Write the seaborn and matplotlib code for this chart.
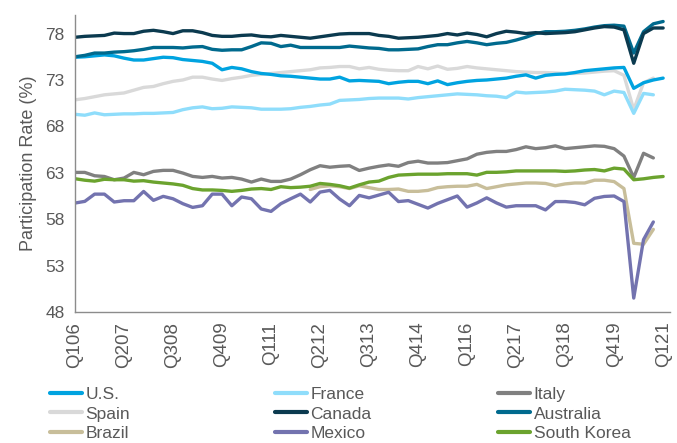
import numpy as np
import pandas as pd
import matplotlib
matplotlib.use("Agg")
import matplotlib.pyplot as plt
from matplotlib.lines import Line2D
import seaborn as sns

nan = np.nan
# quarterly index Q1 2006 .. Q1 2021 (61 quarters)
quarters = list(range(61))
tick_pos = list(range(0, 61, 5))
tick_labels = ["Q106", "Q207", "Q308", "Q409", "Q111", "Q212", "Q313",
               "Q414", "Q116", "Q217", "Q318", "Q419", "Q121"]

us = [75.45, 75.5, 75.6, 75.7, 75.6, 75.35, 75.15, 75.15, 75.3, 75.45,
      75.4, 75.2, 75.1, 75.0, 74.8, 74.1, 74.35, 74.2, 73.9, 73.7,
      73.6, 73.45, 73.4, 73.3, 73.2, 73.1, 73.1, 73.3, 72.9, 72.95,
      72.9, 72.85, 72.6, 72.75, 72.85, 72.85, 72.6, 72.9, 72.5, 72.7,
      72.85, 72.95, 73.0, 73.1, 73.2, 73.4, 73.55, 73.2, 73.5, 73.6,
      73.65, 73.8, 74.0, 74.1, 74.2, 74.3, 74.35, 72.1, 72.7, 73.0, 73.2]
france = [69.3, 69.2, 69.45, 69.25, 69.3, 69.35, 69.35, 69.4, 69.4, 69.45,
          69.5, 69.8, 70.0, 70.1, 69.9, 69.95, 70.1, 70.05, 70.0, 69.85,
          69.85, 69.85, 69.9, 70.05, 70.15, 70.3, 70.4, 70.8, 70.85, 70.9,
          71.0, 71.05, 71.05, 71.05, 70.95, 71.1, 71.2, 71.3, 71.4, 71.5,
          71.45, 71.4, 71.3, 71.25, 71.1, 71.7, 71.6, 71.65, 71.7, 71.8,
          72.0, 71.95, 71.9, 71.8, 71.4, 71.8, 71.65, 69.4, 71.55, 71.4, nan]
italy = [63.04, 63.04, 62.68, 62.6, 62.25, 62.43, 63.04, 62.79, 63.15, 63.26,
         63.26, 62.97, 62.61, 62.5, 62.61, 62.43, 62.5, 62.32, 62.0, 62.32,
         62.07, 62.07, 62.32, 62.79, 63.33, 63.76, 63.6, 63.7, 63.76, 63.25,
         63.5, 63.7, 63.85, 63.7, 64.1, 64.25, 64.05, 64.05, 64.1, 64.3,
         64.5, 65.0, 65.2, 65.3, 65.3, 65.5, 65.8, 65.6, 65.7, 65.9,
         65.6, 65.7, 65.8, 65.9, 65.85, 65.6, 64.8, 62.5, 65.1, 64.6, nan]
spain = [70.86, 71.0, 71.2, 71.4, 71.5, 71.6, 71.9, 72.2, 72.3, 72.6,
         72.85, 73.0, 73.3, 73.3, 73.1, 72.95, 73.15, 73.3, 73.5, 73.6,
         73.7, 73.8, 73.9, 74.0, 74.1, 74.3, 74.35, 74.45, 74.45, 74.2,
         74.35, 74.15, 74.05, 74.0, 74.0, 74.45, 74.2, 74.5, 74.15, 74.25,
         74.45, 74.3, 74.2, 74.1, 74.0, 73.9, 73.85, 73.8, 73.8, 73.75,
         73.7, 73.7, 73.75, 73.85, 73.95, 74.0, 73.5, 69.8, 72.7, 73.2, nan]
canada = [77.6, 77.7, 77.75, 77.8, 78.05, 78.0, 78.0, 78.25, 78.35, 78.2,
          78.0, 78.3, 78.3, 78.1, 77.8, 77.7, 77.7, 77.8, 77.85, 77.7,
          77.65, 77.8, 77.7, 77.6, 77.5, 77.65, 77.8, 77.95, 78.0, 78.0,
          78.0, 77.8, 77.7, 77.5, 77.55, 77.6, 77.7, 77.8, 78.0, 77.85,
          78.05, 77.9, 77.65, 78.0, 78.25, 78.15, 78.0, 78.1, 78.0, 78.05,
          78.1, 78.2, 78.4, 78.6, 78.75, 78.7, 78.4, 74.8, 78.0, 78.6, 78.6]
australia = [75.5, 75.65, 75.9, 75.9, 76.0, 76.05, 76.15, 76.3, 76.5, 76.5,
             76.5, 76.45, 76.55, 76.6, 76.3, 76.2, 76.25, 76.25, 76.6, 77.0,
             76.95, 76.6, 76.75, 76.5, 76.5, 76.5, 76.5, 76.5, 76.65, 76.55,
             76.45, 76.4, 76.25, 76.25, 76.3, 76.35, 76.6, 76.8, 76.8, 77.0,
             77.15, 77.0, 76.8, 76.95, 77.05, 77.3, 77.6, 78.0, 78.2, 78.2,
             78.25, 78.35, 78.5, 78.7, 78.85, 78.9, 78.8, 75.9, 78.2, 79.05, 79.3]
brazil = [nan] * 24 + [
    61.2, 61.5, 61.6, 61.5, 61.3, 61.6, 61.4, 61.2, 61.2, 61.25,
    61.0, 61.0, 61.1, 61.4, 61.5, 61.55, 61.55, 61.75, 61.3, 61.5,
    61.7, 61.8, 61.9, 61.9, 61.85, 61.6, 61.8, 61.9, 61.9, 62.2,
    62.2, 62.05, 61.3, 55.4, 55.3, 56.9] + [nan]
mexico = [59.74, 59.92, 60.7, 60.7, 59.85, 59.99, 59.99, 60.99, 60.03, 60.46,
          60.2, 59.67, 59.27, 59.45, 60.7, 60.7, 59.45, 60.39, 60.2, 59.1,
          58.84, 59.67, 60.2, 60.7, 59.85, 60.92, 61.1, 60.17, 59.45, 60.56,
          60.3, 60.6, 60.9, 59.9, 60.0, 59.6, 59.2, 59.7, 60.1, 60.5,
          59.3, 59.75, 60.3, 59.75, 59.3, 59.45, 59.45, 59.45, 59.0, 59.9,
          59.9, 59.8, 59.55, 60.25, 60.45, 60.5, 59.9, 49.5, 55.8, 57.7, nan]
south_korea = [62.36, 62.2, 62.1, 62.3, 62.25, 62.25, 62.1, 62.15, 62.0, 61.9,
               61.8, 61.65, 61.3, 61.15, 61.15, 61.1, 61.0, 61.1, 61.25, 61.3,
               61.2, 61.5, 61.4, 61.45, 61.55, 61.85, 61.75, 61.6, 61.35, 61.7,
               62.0, 62.1, 62.5, 62.75, 62.8, 62.85, 62.85, 62.85, 62.9, 62.9,
               62.9, 62.75, 63.05, 63.05, 63.1, 63.2, 63.2, 63.2, 63.2, 63.2,
               63.15, 63.2, 63.3, 63.35, 63.2, 63.5, 63.4, 62.25, 62.35, 62.5, 62.6]

series_names = ["U.S.", "France", "Italy", "Spain", "Canada", "Australia",
                "Brazil", "Mexico", "South Korea"]
series_values = [us, france, italy, spain, canada, australia, brazil, mexico, south_korea]
colors = ["#00A3E0", "#8FDDFB", "#808080", "#D9D9D9", "#0B3A4F", "#006A8E",
          "#C8BE9A", "#7373AF", "#6BA32E"]

frames = []
for name, vals in zip(series_names, series_values):
    frames.append(pd.DataFrame({"q": quarters, "rate": vals, "country": name}))
df = pd.concat(frames, ignore_index=True).dropna()

sns.set_style("white")
plt.rcParams["font.family"] = ["Liberation Sans", "DejaVu Sans"]
text_color = "#595959"
axis_color = "#8C8C8C"

fig = plt.figure(figsize=(6.77, 4.43), dpi=100)
ax = fig.add_axes([75 / 677, 1 - 312 / 443, 595 / 677, 297 / 443])

palette = dict(zip(series_names, colors))
draw_order = ["Spain", "France", "U.S.", "Italy", "Brazil", "Mexico",
              "South Korea", "Australia", "Canada"]
sns.lineplot(data=df, x="q", y="rate", hue="country", hue_order=draw_order,
             palette=palette, estimator=None, linewidth=2.4, legend=False, ax=ax)

ax.set_xlim(0, 60.7)
ax.set_ylim(48, 80)
ax.set_yticks([48, 53, 58, 63, 68, 73, 78])
ax.set_xticks(tick_pos)
ax.set_xticklabels(tick_labels, rotation=90)
ax.set_xlabel("")
ax.set_ylabel("Participation Rate (%)", fontsize=13, color=text_color, labelpad=6)
ax.tick_params(axis="both", labelsize=12.5, colors=axis_color, labelcolor=text_color,
               length=4, width=1, direction="out")
ax.tick_params(axis="x", labelsize=13.5, pad=3)
for side in ["top", "right"]:
    ax.spines[side].set_visible(False)
for side in ["left", "bottom"]:
    ax.spines[side].set_color(axis_color)
    ax.spines[side].set_linewidth(1)

# legend: three columns
col_x = [50 / 677, 275 / 677, 498 / 677]
col_members = [["U.S.", "Spain", "Brazil"],
               ["France", "Canada", "Mexico"],
               ["Italy", "Australia", "South Korea"]]
for cx, members in zip(col_x, col_members):
    handles = [Line2D([], [], color=palette[m], linewidth=3) for m in members]
    leg = fig.legend(handles, members, loc="center left",
                     bbox_to_anchor=(cx, 1 - 414 / 443), frameon=False,
                     fontsize=12.5, handlelength=1.85, handletextpad=0.2,
                     labelspacing=0.25, borderpad=0, borderaxespad=0)
    for t in leg.get_texts():
        t.set_color(text_color)

fig.savefig("out.png", dpi=100)
